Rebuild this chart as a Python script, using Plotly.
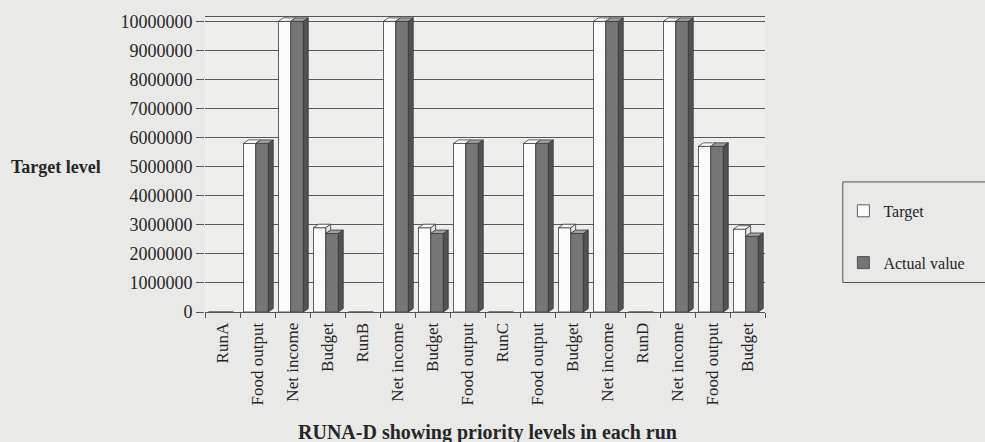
import plotly.graph_objects as go

# Priority levels per run: target vs. actual value
categories = ["RunA", "Food output", "Net income", "Budget",
              "RunB", "Net income", "Budget", "Food output",
              "RunC", "Food output", "Budget", "Net income",
              "RunD", "Net income", "Food output", "Budget"]
target = [0, 5800000, 10000000, 2900000,
          0, 10000000, 2900000, 5800000,
          0, 5800000, 2900000, 10000000,
          0, 10000000, 5700000, 2850000]
actual = [0, 5800000, 10000000, 2700000,
          0, 10000000, 2700000, 5800000,
          0, 5800000, 2700000, 10000000,
          0, 10000000, 5700000, 2600000]
y_ticks = list(range(0, 10000001, 1000000))

FONT = "Liberation Serif, Times New Roman, serif"
INK = "#262626"
EDGE = "#3a3a3a"

# bar geometry in category units, plus a small oblique depth for the 3-D look
T_OFF, T_W = -0.40, 0.35
A_OFF, A_W = -0.05, 0.36
DX, DY = 0.14, 120000

xs = list(range(len(categories)))

fig = go.Figure()
fig.add_trace(go.Bar(x=xs, y=target, name="Target", offset=T_OFF, width=T_W,
                     marker=dict(color="#fbfbfb", line=dict(color=EDGE, width=0.8)),
                     legendgroup="t"))
fig.add_trace(go.Bar(x=xs, y=actual, name="Actual value", offset=A_OFF, width=A_W,
                     marker=dict(color="#767676", line=dict(color=EDGE, width=0.8)),
                     legendgroup="a"))


def poly_trace(px, py, fill):
    return go.Scatter(x=px, y=py, mode="lines", fill="toself", fillcolor=fill,
                      line=dict(color=EDGE, width=0.8), hoverinfo="skip",
                      showlegend=False)


# top faces of the white bars and the part of their side face above the grey bar
wt_x, wt_y, ws_x, ws_y = [], [], [], []
gt_x, gt_y, gs_x, gs_y = [], [], [], []
for i, (v, va) in enumerate(zip(target, actual)):
    if v > 0:
        x0, x1 = i + T_OFF, i + T_OFF + T_W
        wt_x += [x0, x0 + DX, x1 + DX, x1, x0, None]
        wt_y += [v, v + DY, v + DY, v, v, None]
        if v > va:
            ws_x += [x1, x1 + DX, x1 + DX, x1, x1, None]
            ws_y += [va, va + DY, v + DY, v, va, None]
    if va > 0:
        x0, x1 = i + A_OFF, i + A_OFF + A_W
        gt_x += [x0, x0 + DX, x1 + DX, x1, x0, None]
        gt_y += [va, va + DY, va + DY, va, va, None]
        gs_x += [x1, x1 + DX, x1 + DX, x1, x1, None]
        gs_y += [0, DY, va + DY, va, 0, None]

fig.add_trace(poly_trace(wt_x, wt_y, "#ffffff"))
fig.add_trace(poly_trace(ws_x, ws_y, "#e4e4e4"))
fig.add_trace(poly_trace(gt_x, gt_y, "#a0a0a0"))
fig.add_trace(poly_trace(gs_x, gs_y, "#525252"))

fig.update_layout(
    width=985, height=442,
    margin=dict(l=205, r=220, t=13, b=130),
    paper_bgcolor="#e9e9e7",
    plot_bgcolor="#eeeeec",
    font=dict(family=FONT, size=16, color=INK),
    barmode="overlay",
    showlegend=True,
    legend=dict(x=1.14, y=0.44, xanchor="left", yanchor="top",
                bgcolor="rgba(0,0,0,0)", borderwidth=0,
                font=dict(family=FONT, size=16, color=INK),
                title=dict(text=" ", font=dict(size=9)),
                tracegroupgap=28, itemwidth=30),
    # legend frame, running off the right edge of the page
    shapes=[dict(type="rect", xref="paper", yref="paper",
                 x0=1.139, x1=1.45, y0=0.10, y1=0.441,
                 line=dict(color="#555555", width=1), fillcolor="rgba(0,0,0,0)")],
    annotations=[
        dict(text="<b>Target level</b>", xref="paper", yref="paper",
             x=-0.266, y=0.49, xanchor="center", yanchor="middle",
             showarrow=False, font=dict(size=18)),
        dict(text="<b>RUNA-D showing priority levels in each run</b>",
             xref="paper", yref="paper", x=0.505, y=-0.407,
             xanchor="center", yanchor="middle",
             showarrow=False, font=dict(size=20)),
    ],
)

fig.update_xaxes(
    range=[-0.5, len(categories) - 0.5],
    tickmode="array", tickvals=xs, ticktext=categories, tickangle=-90,
    ticks="", showgrid=False, zeroline=False, ticklabelstandoff=3,
    showline=True, linecolor="#555555", linewidth=1, mirror=True,
    minor=dict(tick0=-0.5, dtick=1, ticks="outside", ticklen=5,
               tickcolor="#555555", showgrid=False),
    tickfont=dict(size=17),
)
fig.update_yaxes(
    range=[0, 10150000],
    tickmode="array", tickvals=y_ticks, ticktext=[str(t) for t in y_ticks],
    ticks="outside", ticklen=8, tickcolor="#555555",
    showgrid=True, gridcolor="#5a5a5a", gridwidth=1,
    zeroline=False, showline=False,
    tickfont=dict(size=18),
)

fig.write_html("out.html")
